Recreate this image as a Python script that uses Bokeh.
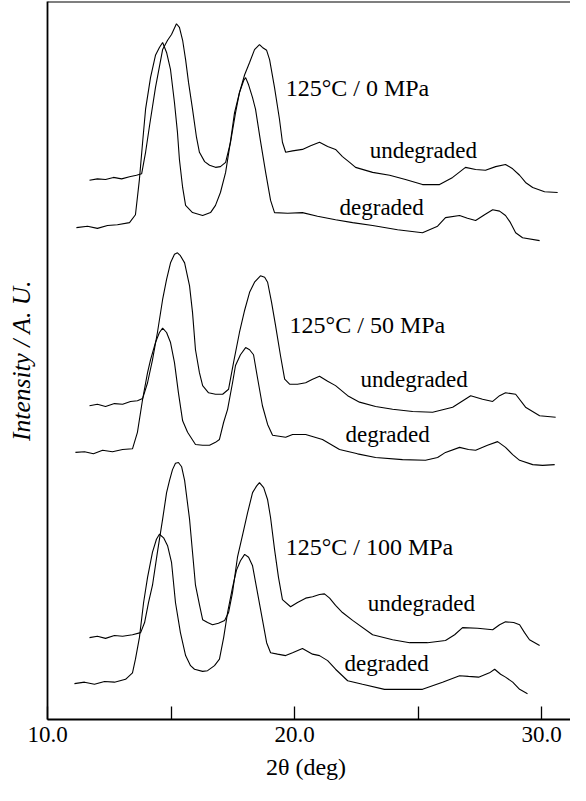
from bokeh.plotting import figure
from bokeh.models import FixedTicker, Span, Range1d
from bokeh.core.properties import value
from bokeh.embed import file_html
from bokeh.resources import INLINE

# ---- data: 2-theta (deg) and stacked intensity (a.u.) ----
u0_t = [11.70,12.02,12.35,12.67,13.00,13.32,13.60,13.81,13.97,14.13,14.37,14.66,14.86,15.02,15.22,15.34,15.47,15.59,15.71,15.87,16.03,16.15,16.36,16.56,16.80,17.00,17.21,17.41,17.61,17.77,17.98,18.18,18.38,18.58,18.70,18.87,18.99,19.19,19.39,19.51,19.64,19.92,20.32,20.65,21.01,21.34,21.66,21.94,22.23,22.47,23.16,23.85,24.49,25.18,25.87,26.40,26.92,27.33,27.73,28.14,28.54,28.83,29.11,29.35,29.64,30.12,30.65]
u0_i = [75.1,75.3,75.2,75.5,75.3,75.6,75.8,76.0,79.0,82.7,88.0,93.3,94.6,95.4,96.9,96.4,94.6,91.9,88.7,85.0,81.1,79.0,77.7,77.2,76.9,77.0,77.6,80.4,84.5,87.3,89.8,91.5,93.3,94.0,93.6,93.2,91.9,88.0,83.6,80.4,79.0,79.2,79.4,79.9,80.4,79.8,79.4,78.4,77.6,76.9,76.2,75.8,75.2,74.5,74.5,75.5,76.9,76.6,76.5,77.0,77.3,76.7,75.8,74.8,74.1,73.5,73.4]

d0_t = [11.17,11.62,12.02,12.43,12.83,13.32,13.56,13.72,13.85,13.97,14.17,14.37,14.53,14.66,14.82,14.98,15.14,15.26,15.34,15.47,15.59,15.87,16.28,16.60,16.80,17.00,17.21,17.41,17.57,17.77,17.94,18.02,18.14,18.30,18.42,18.62,18.83,19.03,19.19,19.72,20.32,20.93,21.66,22.35,23.16,24.17,25.18,25.79,26.11,26.68,27.00,27.33,27.69,28.02,28.30,28.54,28.74,28.95,29.23,29.92]
d0_i = [68.5,68.7,68.4,68.8,68.9,69.2,70.3,75.2,80.4,85.0,89.4,92.5,93.6,94.3,92.9,90.5,85.9,81.8,78.0,74.1,71.6,70.6,70.2,70.6,71.6,73.4,76.2,80.6,84.5,87.3,89.0,89.4,88.4,86.6,85.0,80.6,76.2,72.3,70.6,70.5,70.6,70.1,69.6,69.2,68.8,68.2,67.8,68.7,69.9,70.2,69.8,69.5,70.3,71.0,70.8,70.2,69.2,67.8,67.1,66.7]

u50_t = [11.70,12.02,12.35,12.71,13.04,13.36,13.64,13.85,14.05,14.25,14.45,14.66,14.82,14.98,15.14,15.26,15.38,15.55,15.75,15.87,15.99,16.15,16.28,16.52,16.80,17.09,17.33,17.53,17.77,17.98,18.18,18.38,18.62,18.79,18.91,19.07,19.23,19.43,19.60,19.80,20.12,20.45,20.73,21.01,21.34,21.66,22.15,22.63,23.28,23.97,24.78,25.59,26.40,27.13,27.61,28.02,28.30,28.54,28.95,29.35,29.92,30.57]
u50_i = [43.7,43.9,43.6,44.0,43.9,44.3,44.4,44.7,46.9,50.1,53.9,58.5,61.3,63.6,64.8,65.0,64.6,63.6,60.4,56.7,51.5,48.3,46.5,45.5,45.3,45.3,46.0,49.7,53.9,57.0,59.5,60.9,61.8,61.6,60.9,58.1,54.9,50.7,47.4,46.7,46.7,46.9,47.4,47.8,47.1,46.5,45.1,44.2,43.6,43.2,42.9,42.8,43.5,45.1,44.6,44.3,45.1,45.5,45.3,43.5,42.3,42.1]

d50_t = [11.13,11.50,11.86,12.23,12.63,13.04,13.44,13.64,13.85,14.05,14.17,14.37,14.53,14.66,14.82,14.98,15.14,15.30,15.47,15.67,15.99,16.28,16.56,16.80,16.96,17.13,17.29,17.49,17.61,17.81,18.02,18.18,18.34,18.50,18.70,18.91,19.11,19.64,19.92,20.45,21.13,21.82,22.55,23.28,24.37,25.30,25.79,26.11,26.68,27.04,27.33,27.81,28.22,28.54,28.83,29.11,29.64,30.04,30.53]
d50_i = [37.2,37.3,37.0,37.5,37.3,37.6,37.7,40.0,44.6,48.3,50.1,52.5,53.9,54.5,53.9,52.5,49.7,45.5,41.6,40.0,38.3,38.2,38.2,38.6,39.0,41.4,43.2,46.9,49.3,50.8,51.8,51.5,50.8,47.6,43.7,41.1,39.6,39.3,39.7,39.7,39.0,37.6,37.0,36.5,36.2,36.1,36.5,37.2,37.9,37.6,37.5,38.2,38.7,37.9,36.9,36.1,35.5,35.4,35.5]

u100_t = [11.70,12.02,12.35,12.71,13.04,13.44,13.77,13.93,14.09,14.25,14.45,14.66,14.82,14.94,15.06,15.18,15.30,15.43,15.55,15.75,15.87,15.99,16.15,16.28,16.48,16.68,16.92,17.17,17.33,17.49,17.69,17.89,18.10,18.30,18.46,18.58,18.75,18.91,19.03,19.19,19.35,19.51,19.84,20.12,20.45,20.73,21.01,21.21,21.42,21.66,21.94,22.35,23.16,23.97,24.66,25.38,26.11,26.48,26.80,27.41,28.02,28.30,28.54,28.87,29.11,29.31,29.51,29.92]
u100_i = [11.4,11.6,11.3,11.7,11.6,11.8,12.1,13.5,16.3,18.7,23.3,27.9,31.6,33.3,34.8,35.7,35.8,35.2,33.3,27.9,23.3,18.7,16.0,13.9,13.5,13.2,13.4,13.8,14.9,17.7,22.6,25.6,28.8,31.6,32.5,33.0,32.3,30.6,28.1,23.7,19.8,16.7,15.7,16.3,16.9,17.1,17.4,17.5,16.9,15.9,14.9,13.8,11.8,11.1,10.7,10.7,11.0,11.8,12.8,12.7,12.5,13.2,13.6,13.5,13.2,12.1,11.1,10.3]

d100_t = [11.09,11.50,11.90,12.31,12.71,13.16,13.44,13.56,13.72,13.89,14.05,14.25,14.41,14.53,14.70,14.86,15.02,15.18,15.38,15.59,15.79,15.95,16.28,16.48,16.76,16.96,17.13,17.29,17.49,17.65,17.81,17.98,18.14,18.30,18.46,18.70,18.87,19.03,19.31,19.64,19.92,20.32,20.73,21.01,21.34,21.66,22.15,22.75,23.64,24.58,25.18,25.99,26.68,27.04,27.45,27.89,28.10,28.34,28.54,28.83,29.11,29.43]
d100_i = [5.0,5.2,4.9,5.3,5.2,5.6,6.5,8.4,11.4,16.3,19.8,23.3,25.1,25.8,25.3,24.2,21.9,16.3,12.1,8.9,7.5,7.0,6.7,6.8,7.5,8.4,11.4,14.9,18.4,20.8,22.1,23.0,22.6,21.4,18.4,13.9,10.7,9.3,9.1,8.9,9.3,9.9,9.1,8.9,8.2,7.0,5.4,4.9,4.2,4.2,4.2,5.2,6.1,6.0,5.9,6.5,7.0,6.3,5.9,5.2,4.2,3.6]

cond_labels = ["125°C / 0 MPa", "125°C / 50 MPa", "125°C / 100 MPa"]
cond_x = [19.64, 19.80, 19.64]
cond_y = [88.0, 54.9, 24.0]

sample_labels = ["undegraded", "degraded", "undegraded", "degraded", "undegraded", "degraded"]
sample_x = [23.04, 21.82, 22.67, 22.06, 22.96, 22.02]
sample_y = [79.3, 71.3, 47.4, 39.7, 16.1, 7.8]

x_ticks = [10, 15, 20, 25, 30]
x_tick_labels = {10: "10.0", 15: "", 20: "20.0", 25: "", 30: "30.0"}

SERIF = "Liberation Serif"

p = figure(width=570, height=785, title=None,
           x_range=Range1d(10.0, 31.17), y_range=Range1d(0, 100),
           output_backend="svg", toolbar_location=None,
           min_border_left=47, min_border_right=0,
           min_border_top=1, min_border_bottom=66)
p.outline_line_color = None
p.background_fill_color = "white"
p.border_fill_color = "white"
p.xgrid.visible = False
p.ygrid.visible = False

for xs, ys in [(u0_t, u0_i), (d0_t, d0_i), (u50_t, u50_i),
               (d50_t, d50_i), (u100_t, u100_i), (d100_t, d100_i)]:
    p.line(xs, ys, line_color="black", line_width=1.1)

p.text(x=cond_x, y=cond_y, text=cond_labels, text_font=value(SERIF),
       text_font_size=value("24px"), text_baseline="middle", text_align="left",
       text_color="black")
p.text(x=sample_x, y=sample_y, text=sample_labels, text_font=value(SERIF),
       text_font_size=value("23px"), text_baseline="middle", text_align="left",
       text_color="black")

# top frame line
p.add_layout(Span(location=100, dimension="width", line_color="black", line_width=2))

xa = p.xaxis[0]
xa.ticker = FixedTicker(ticks=x_ticks)
xa.major_label_overrides = x_tick_labels
xa.major_tick_in = 13
xa.major_tick_out = 0
xa.major_tick_line_width = 1.3
xa.major_tick_line_color = "black"
xa.minor_tick_line_color = None
xa.axis_line_width = 1.8
xa.axis_line_color = "black"
xa.major_label_text_font = SERIF
xa.major_label_text_font_size = "23px"
xa.major_label_text_color = "black"
xa.major_label_standoff = 7
xa.axis_label = "2θ  (deg)"
xa.axis_label_text_font = SERIF
xa.axis_label_text_font_size = "24px"
xa.axis_label_text_font_style = "normal"
xa.axis_label_text_color = "black"
xa.axis_label_standoff = 9

ya = p.yaxis[0]
ya.ticker = FixedTicker(ticks=[])
ya.major_tick_out = 0
ya.major_tick_in = 0
ya.minor_tick_line_color = None
ya.major_label_standoff = 0
ya.axis_line_width = 1.8
ya.axis_line_color = "black"
ya.axis_label = "Intensity / A. U."
ya.axis_label_text_font = SERIF
ya.axis_label_text_font_size = "25.5px"
ya.axis_label_text_font_style = "italic"
ya.axis_label_text_color = "black"
ya.axis_label_standoff = 12

open("out.html", "w").write(file_html(p, INLINE))
